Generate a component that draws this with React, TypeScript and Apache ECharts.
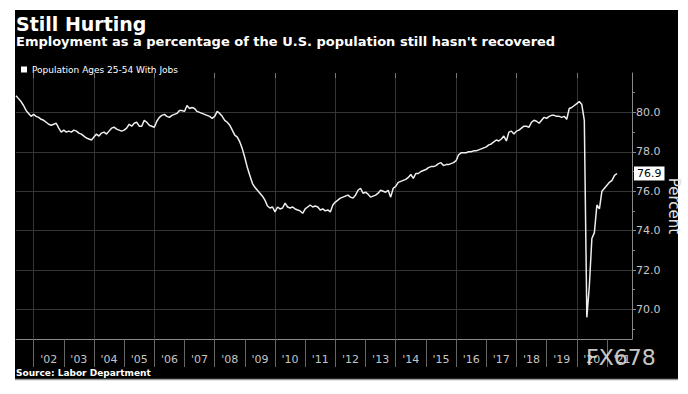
import React, { useEffect, useRef } from 'react';
import * as echarts from 'echarts';

const titleText = 'Still Hurting';
const subtitleText = "Employment as a percentage of the U.S. population still hasn't recovered";
const seriesName = 'Population Ages 25-54 With Jobs';
const sourceText = 'Source: Labor Department';
const watermarkText = 'FX678';
const axisName = 'Percent';

// monthly values (end-of-month), first month of 2001 is May
const startYear = 2001;
const startMonth = 5;
const v2001 = [80.85, 80.7, 80.55, 80.35, 80.1, 79.95, 79.8, 79.9];
const v2002 = [79.8, 79.75, 79.65, 79.6, 79.5, 79.4, 79.35, 79.4, 79.45, 79.2, 79.0, 79.1];
const v2003 = [79.0, 79.05, 79.0, 79.1, 79.05, 78.95, 78.9, 78.8, 78.7, 78.65, 78.6, 78.75];
const v2004 = [78.9, 78.8, 78.95, 79.0, 78.9, 79.05, 79.2, 79.25, 79.15, 79.1, 79.05, 79.1];
const v2005 = [79.2, 79.4, 79.3, 79.45, 79.5, 79.3, 79.3, 79.6, 79.5, 79.35, 79.3, 79.25];
const v2006 = [79.55, 79.75, 79.85, 79.9, 79.8, 79.75, 79.85, 79.9, 79.95, 80.1, 80.1, 80.05];
const v2007 = [80.35, 80.2, 80.25, 80.2, 80.05, 80.0, 79.95, 79.9, 79.85, 79.8, 79.7, 79.8];
const v2008 = [80.05, 79.95, 79.8, 79.6, 79.5, 79.35, 79.1, 78.85, 78.75, 78.5, 78.15, 77.7];
const v2009 = [77.2, 76.8, 76.4, 76.2, 76.05, 75.9, 75.75, 75.55, 75.25, 75.15, 75.2, 74.95];
const v2010 = [75.2, 75.1, 75.15, 75.4, 75.2, 75.15, 75.2, 75.1, 75.05, 75.0, 74.88, 75.1];
const v2011 = [75.2, 75.3, 75.2, 75.25, 75.2, 75.05, 75.1, 75.0, 75.05, 74.95, 75.3, 75.45];
const v2012 = [75.55, 75.65, 75.7, 75.75, 75.8, 75.7, 75.65, 75.8, 76.05, 76.15, 75.9, 75.95];
const v2013 = [75.85, 75.7, 75.75, 75.8, 75.9, 76.05, 76.0, 75.95, 76.05, 75.7, 76.15, 76.25];
const v2014 = [76.45, 76.5, 76.55, 76.6, 76.7, 76.85, 76.65, 76.9, 76.9, 77.0, 77.05, 77.1];
const v2015 = [77.2, 77.25, 77.25, 77.3, 77.4, 77.45, 77.3, 77.35, 77.35, 77.4, 77.45, 77.55];
const v2016 = [77.85, 77.95, 77.95, 77.95, 78.0, 78.0, 78.05, 78.05, 78.1, 78.15, 78.2, 78.25];
const v2017 = [78.35, 78.4, 78.5, 78.6, 78.55, 78.65, 78.8, 78.55, 79.0, 79.05, 78.9, 79.05];
const v2018 = [79.1, 79.2, 79.3, 79.3, 79.25, 79.5, 79.6, 79.55, 79.45, 79.6, 79.75, 79.7];
const v2019 = [79.8, 79.85, 79.85, 79.8, 79.8, 79.75, 79.8, 79.65, 80.2, 80.25, 80.35, 80.45];
const v2020 = [80.55, 80.4, 79.6, 69.6, 71.2, 73.6, 73.9, 75.3, 75.1, 76.0, 76.15, 76.3];
const v2021 = [76.45, 76.55, 76.8, 76.9];
const yearlyValues = [v2001, v2002, v2003, v2004, v2005, v2006, v2007, v2008, v2009, v2010,
  v2011, v2012, v2013, v2014, v2015, v2016, v2017, v2018, v2019, v2020, v2021];

const yLabelValues = [70, 72, 74, 76, 78, 80];
const yMinorTickValues = [69, 71, 73, 75, 77, 79, 81];
const yMin = 68.5;
const yMax = 82;
const xYearTicks = [2002, 2003, 2004, 2005, 2006, 2007, 2008, 2009, 2010, 2011, 2012,
  2013, 2014, 2015, 2016, 2017, 2018, 2019, 2020, 2021];
const xGridYears = [2002, 2004, 2006, 2008, 2010, 2012, 2014, 2016, 2018, 2020];
const xMin = 2001 + 5 / 12;
const xMax = 2021.83;

const FONT = 'DejaVu Sans';

export default function App() {
  const ref = useRef<HTMLDivElement>(null);
  useEffect(() => {
    if (!ref.current) return;
    const chart = echarts.init(ref.current, undefined, { renderer: 'svg' });
    const data: number[][] = [];
    yearlyValues.forEach((arr, i) => {
      const year = startYear + i;
      const m0 = i === 0 ? startMonth : 1;
      arr.forEach((v, j) => data.push([year + (m0 + j) / 12, v]));
    });
    const labelVals = xYearTicks.map((y) => y + 0.5);
    chart.setOption({
      animation: false,
      backgroundColor: 'transparent',
      textStyle: { fontFamily: FONT },
      grid: { left: 1, top: 63, width: 616, height: 266, containLabel: false, outerBoundsMode: 'none' },
      legend: {
        left: 6, top: 55, padding: 0, icon: 'rect', itemWidth: 6, itemHeight: 6,
        textStyle: { color: '#fff', fontSize: 9, fontFamily: FONT },
        data: [{ name: seriesName, itemStyle: { color: '#fff' } }],
      },
      xAxis: [
        {
          type: 'value', min: xMin, max: xMax, position: 'bottom',
          axisLine: { show: true, lineStyle: { color: '#8a8a8a', width: 1 } },
          axisTick: { show: true, customValues: xYearTicks, length: 28, lineStyle: { color: '#666' } },
          axisLabel: {
            customValues: labelVals, color: '#c4c4c4', fontSize: 11, margin: 15, fontFamily: FONT,
            formatter: (v: number) => "'" + String(Math.floor(v)).slice(2),
          },
          splitLine: { show: false },
        },
        {
          type: 'value', min: xMin, max: xMax, position: 'top',
          axisLine: { show: false },
          axisTick: { show: true, inside: true, customValues: xGridYears, length: 5, lineStyle: { color: '#777' } },
          axisLabel: { show: false },
          splitLine: { show: true, lineStyle: { color: '#353535', width: 1 } },
        },
      ],
      yAxis: [
        {
          type: 'value', min: yMin, max: yMax, position: 'right',
          axisLine: { show: true, lineStyle: { color: '#8a8a8a', width: 1 } },
          axisTick: { show: true, customValues: yLabelValues, length: 4, lineStyle: { color: '#8a8a8a' } },
          axisLabel: {
            customValues: yLabelValues, color: '#c8c8c8', fontSize: 11, margin: 4, fontFamily: FONT,
            formatter: (v: number) => v.toFixed(1),
          },
          splitLine: { show: true, lineStyle: { color: '#353535', width: 1 } },
          name: axisName, nameLocation: 'middle', nameRotate: -90, nameGap: 34, nameMoveOverlap: false,
          nameTextStyle: { color: '#e0e0e0', fontSize: 15, fontFamily: FONT },
        },
        {
          type: 'value', min: yMin, max: yMax, position: 'right',
          axisLine: { show: false },
          axisTick: { show: true, customValues: yMinorTickValues, length: 3, lineStyle: { color: '#8a8a8a' } },
          axisLabel: { show: false },
          splitLine: { show: false },
        },
      ],
      series: [
        {
          name: seriesName, type: 'line', data, xAxisIndex: 0, yAxisIndex: 0,
          showSymbol: false, symbol: 'none',
          lineStyle: { color: '#eeeeee', width: 1.5 },
          itemStyle: { color: '#fff' },
          endLabel: {
            show: true, distance: 17, color: '#000', backgroundColor: '#fff',
            padding: [2, 3, 1, 3], fontSize: 11, fontFamily: FONT,
            formatter: (p: any) => p.value[1].toFixed(1),
          },
        },
      ],
      graphic: [
        { type: 'text', left: 1, top: 4, style: { text: titleText, fill: '#fff', font: `bold 19px "${FONT}"`, lineHeight: 19 } },
        { type: 'text', left: 1, top: 24, style: { text: subtitleText, fill: '#fff', font: `bold 13px "${FONT}"`, lineHeight: 14 } },
        { type: 'text', left: 1, top: 358, style: { text: sourceText, fill: '#fff', font: `bold 9px "${FONT}"` } },
        { type: 'text', left: 571, top: 336, style: { text: watermarkText, fill: 'rgba(225,225,225,0.9)', font: `22px "${FONT}"` }, z: 100 },
        { type: 'line', shape: { x1: 0, y1: 369.5, x2: 663, y2: 369.5 }, style: { stroke: '#9a9a9a', lineWidth: 1.5 } },
      ],
    });
    return () => chart.dispose();
  }, []);
  return (
    <div style={{ position: 'absolute', left: 0, top: 0, width: 688, height: 394, background: '#fff' }}>
      <div style={{ position: 'absolute', left: 15, top: 10, width: 663, height: 370, background: '#000' }} />
      <div ref={ref} style={{ position: 'absolute', left: 15, top: 10, width: 673, height: 371 }} />
    </div>
  );
}
